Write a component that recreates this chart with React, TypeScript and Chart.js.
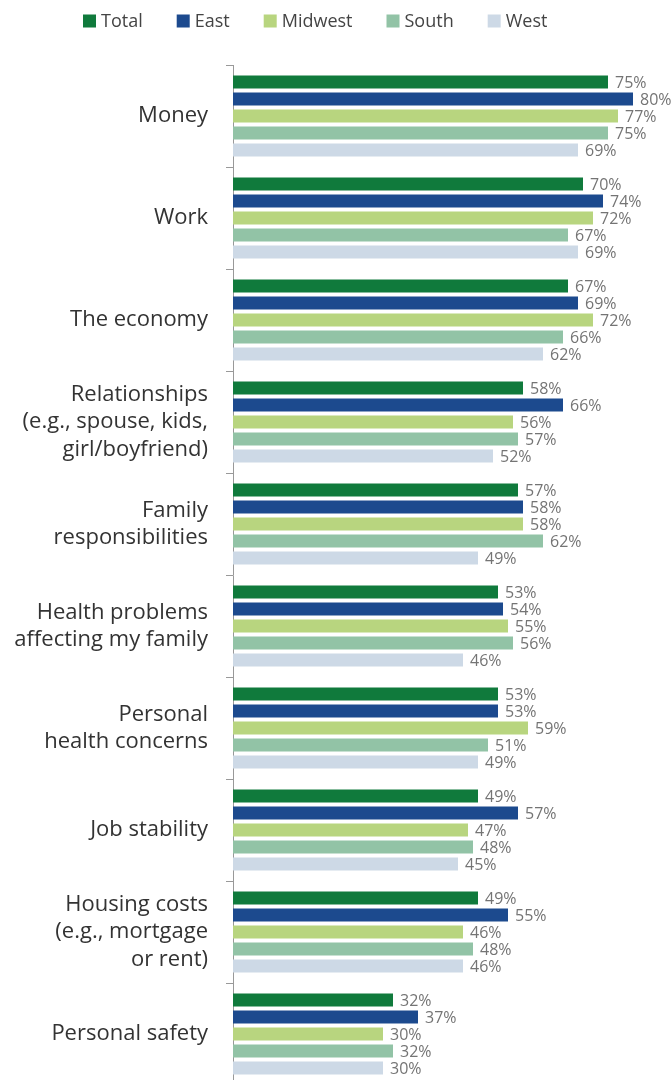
import React, { useEffect, useRef } from "react";
import { Chart, registerables } from "chart.js";

Chart.register(...registerables);

const categories: string[][] = [
  ["Money"],
  ["Work"],
  ["The economy"],
  ["Relationships", "(e.g., spouse, kids,", "girl/boyfriend)"],
  ["Family", "responsibilities"],
  ["Health problems", "affecting my family"],
  ["Personal", "health concerns"],
  ["Job stability"],
  ["Housing costs", "(e.g., mortgage", "or rent)"],
  ["Personal safety"],
];

const seriesNames = ["Total", "East", "Midwest", "South", "West"];
const total = [75, 70, 67, 58, 57, 53, 53, 49, 49, 32];
const east = [80, 74, 69, 66, 58, 54, 53, 57, 55, 37];
const midwest = [77, 72, 72, 56, 58, 55, 59, 47, 46, 30];
const south = [75, 67, 66, 57, 62, 56, 51, 48, 48, 32];
const west = [69, 69, 62, 52, 49, 46, 49, 45, 46, 30];
const seriesColors = ["#107a3c", "#1c4a8e", "#b8d57f", "#92c3a6", "#cdd9e6"];

const FONT = "'Open Sans', 'Noto Sans', sans-serif";

const valueLabels = {
  id: "valueLabels",
  afterDatasetsDraw(chart: any) {
    const ctx = chart.ctx;
    ctx.save();
    ctx.font = `16px ${FONT}`;
    ctx.fillStyle = "#747474";
    ctx.textAlign = "left";
    ctx.textBaseline = "middle";
    chart.data.datasets.forEach((ds: any, i: number) => {
      const meta = chart.getDatasetMeta(i);
      meta.data.forEach((bar: any, j: number) => {
        ctx.fillText(ds.data[j] + "%", bar.x + 7, bar.y + 1);
      });
    });
    ctx.restore();
  },
};

const customLegend = {
  id: "customLegend",
  afterDraw(chart: any) {
    const ctx = chart.ctx;
    ctx.save();
    ctx.font = `18px ${FONT}`;
    ctx.textBaseline = "middle";
    ctx.textAlign = "left";
    const box = 13;
    const gapBoxText = 5;
    const gapItems = 34;
    const y = 13;
    let x = 75;
    chart.data.datasets.forEach((ds: any) => {
      ctx.fillStyle = ds.backgroundColor;
      ctx.fillRect(x, y - box / 2, box, box);
      ctx.fillStyle = "#444";
      ctx.fillText(ds.label, x + box + gapBoxText, y + 1);
      x += box + gapBoxText + ctx.measureText(ds.label).width + gapItems;
    });
    ctx.restore();
  },
};

export default function App() {
  const ref = useRef<HTMLCanvasElement>(null);
  useEffect(() => {
    document.documentElement.style.overflow = "hidden";
    document.body.style.marginRight = "0px";
    const values = [total, east, midwest, south, west];
    const chart = new Chart(ref.current!, {
      type: "bar",
      data: {
        labels: categories,
        datasets: seriesNames.map((n, i) => ({
          label: n,
          data: values[i],
          backgroundColor: seriesColors[i],
          categoryPercentage: 0.833,
          barPercentage: 0.77,
        })),
      },
      options: {
        indexAxis: "y",
        animation: false,
        responsive: false,
        layout: { padding: { top: 57, right: 0, bottom: 0, left: 0 } },
        plugins: {
          legend: { display: false },
          tooltip: { enabled: false },
        },
        scales: {
          x: {
            display: false,
            min: 0,
            max: 87.6,
          },
          y: {
            afterFit(scale: any) {
              scale.width = 225;
              scale.paddingTop = 0;
              scale.paddingBottom = 0;
            },
            grid: {
              display: true,
              offset: true,
              drawOnChartArea: false,
              drawTicks: true,
              tickLength: 7,
              color: "#999",
            },
            border: { display: true, color: "#999" },
            ticks: {
              color: "#333",
              padding: 18,
              font: { size: 22, family: FONT, lineHeight: 1.25 },
            },
          },
        },
      },
      plugins: [valueLabels, customLegend],
    });
    return () => chart.destroy();
  }, []);
  return <canvas ref={ref} width={663} height={1077} style={{ display: "block" }} />;
}
